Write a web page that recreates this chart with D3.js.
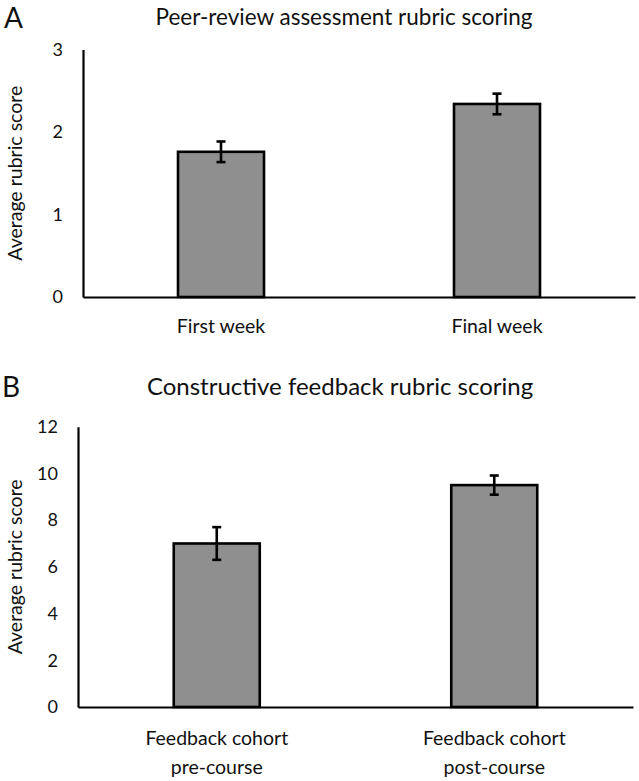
<!DOCTYPE html>
<html>
<head>
<meta charset="utf-8">
<script src="https://cdn.jsdelivr.net/npm/d3@7"></script>
<style>
  body { margin: 0; background: #fff; }
  svg text { font-family: Lato, "Open Sans", sans-serif; fill: #111; }
  .domain { stroke: #000; stroke-width: 2.2px; }
</style>
</head>
<body>
<svg id="chart" width="639" height="781"></svg>
<script>
// panel A: peer-review rubric
const panelACategories = ["First week", "Final week"]
const panelAMeans = [1.76, 2.34]
const panelAErrors = [0.125, 0.125]
const panelATicks = [0, 1, 2, 3]

// panel B: constructive feedback rubric
const panelBCategories = ["Feedback cohort|pre-course", "Feedback cohort|post-course"]
const panelBMeans = [7.0, 9.5]
const panelBErrors = [0.7, 0.41]
const panelBTicks = [0, 2, 4, 6, 8, 10, 12]

let svg = d3.select("#chart")

function drawPanel(p) {
    let data = p.categories.map(function (c, i) {
        return { cat: c, mean: p.means[i], err: p.errors[i] }
    })

    let xScale = d3.scaleBand()
        .domain(p.categories)
        .range([p.left, p.right])
        .padding(0)

    let yScale = d3.scaleLinear()
        .domain([0, d3.max(p.ticks)])
        .range([p.bottom, p.top])

    let g = svg.append("g")

    // y axis (no tick marks, only the line and labels)
    let yAxis = d3.axisLeft(yScale)
        .tickValues(p.ticks)
        .tickSize(0)
        .tickSizeOuter(0)
        .tickPadding(20)
        .tickFormat(d3.format("d"))

    g.append("g")
        .attr("class", "y-axis")
        .attr("transform", `translate(${p.left},0)`)
        .call(yAxis)
        .selectAll("text")
        .style("font-size", "18px")

    // bars
    let barW = 86
    g.selectAll(".bar")
        .data(data)
        .enter()
        .append("rect")
        .attr("class", "bar")
        .attr("x", function (d) { return xScale(d.cat) + xScale.bandwidth() / 2 - barW / 2 })
        .attr("y", function (d) { return yScale(d.mean) })
        .attr("width", barW)
        .attr("height", function (d) { return yScale(0) - yScale(d.mean) })
        .style("fill", "#8f8f8f")
        .style("stroke", "#000")
        .style("stroke-width", "2.6px")

    // error bars
    let cap = 4.5
    let eb = g.selectAll(".err")
        .data(data)
        .enter()
        .append("g")
        .attr("class", "err")
        .attr("transform", function (d) { return `translate(${xScale(d.cat) + xScale.bandwidth() / 2},0)` })
        .style("stroke", "#000")
        .style("stroke-width", "2.6px")

    eb.append("line")
        .attr("y1", function (d) { return yScale(d.mean + d.err) })
        .attr("y2", function (d) { return yScale(d.mean - d.err) })
    eb.append("line")
        .attr("x1", -cap).attr("x2", cap)
        .attr("y1", function (d) { return yScale(d.mean + d.err) })
        .attr("y2", function (d) { return yScale(d.mean + d.err) })
    eb.append("line")
        .attr("x1", -cap).attr("x2", cap)
        .attr("y1", function (d) { return yScale(d.mean - d.err) })
        .attr("y2", function (d) { return yScale(d.mean - d.err) })

    // x axis baseline and category labels
    let xAxis = d3.axisBottom(xScale)
        .tickSize(0)
        .tickSizeOuter(0)
        .tickFormat("")

    let xg = g.append("g")
        .attr("class", "x-axis")
        .attr("transform", `translate(0,${p.bottom})`)
        .call(xAxis)

    xg.selectAll(".tick").each(function (d) {
        let lines = d.split("|")
        let t = d3.select(this).append("text")
            .attr("text-anchor", "middle")
            .attr("y", p.labelY)
            .style("font-size", "19.5px")
            .style("fill", "#111")
        lines.forEach(function (l, i) {
            t.append("tspan").attr("x", 0).attr("dy", i == 0 ? 0 : 28.5).text(l)
        })
    })

    // y axis label
    g.append("text")
        .attr("transform", `translate(${p.ylabelX},${(p.top + p.bottom) / 2}) rotate(-90)`)
        .attr("text-anchor", "middle")
        .style("font-size", "19.5px")
        .text("Average rubric score")

    // title
    g.append("text")
        .attr("x", p.titleX)
        .attr("y", p.titleY)
        .attr("text-anchor", "middle")
        .style("font-size", p.titleSize)
        .text(p.title)

    // panel letter
    g.append("text")
        .attr("x", p.letterX)
        .attr("y", p.letterY)
        .style("font-size", "28px")
        .text(p.letter)
}

drawPanel({
    categories: panelACategories, means: panelAMeans, errors: panelAErrors, ticks: panelATicks,
    left: 83, right: 635, top: 49.5, bottom: 297,
    labelY: 36, ylabelX: 22, title: "Peer-review assessment rubric scoring", titleSize: "22.5px",
    titleX: 344, titleY: 25, letter: "A", letterX: 4, letterY: 28
})

drawPanel({
    categories: panelBCategories, means: panelBMeans, errors: panelBErrors, ticks: panelBTicks,
    left: 78, right: 633, top: 426.7, bottom: 707,
    labelY: 38, ylabelX: 22, title: "Constructive feedback rubric scoring", titleSize: "24px",
    titleX: 340, titleY: 395, letter: "B", letterX: 2, letterY: 397
})
</script>
</body>
</html>
